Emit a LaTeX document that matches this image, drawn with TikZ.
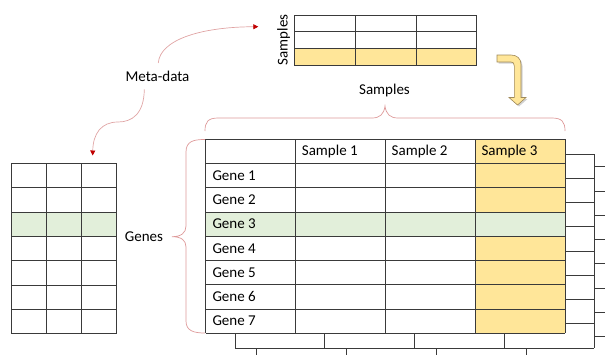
\documentclass[tikz,border=0pt]{standalone}
\usepackage{fontspec}
\setmainfont{Carlito}
\usetikzlibrary{arrows.meta}
\definecolor{gridc}{HTML}{3A3A3A}
\definecolor{yell}{HTML}{FFE699}
\definecolor{grn}{HTML}{E2EFDA}
\definecolor{bracec}{HTML}{DE9A9A}
\definecolor{arrc}{HTML}{E0A4A4}
\definecolor{tipc}{HTML}{C00000}
\definecolor{bentc}{HTML}{A08A5A}
\tikzset{
  gridline/.style={draw=gridc,line width=0.8pt},
  bracel/.style={draw=bracec,line width=0.7pt},
  metaarrow/.style={draw=arrc,line width=0.7pt,-{Triangle[length=5pt,width=5pt,color=tipc,fill=tipc]}},
  lbl/.style={font=\fontsize{15}{18}\selectfont,inner sep=1pt},
  celllbl/.style={font=\fontsize{15}{18}\selectfont,inner sep=0pt,anchor=west},
}
\begin{document}
\begin{tikzpicture}[x=1pt,y=-1pt]
\useasboundingbox (0,0) rectangle (605,354);
\clip (0,0) rectangle (605,354);
% ---- back tables (stacked) ----
\foreach \dx/\dy in {51/27.4, 29.3/14.7}{
  \begin{scope}[shift={(\dx,\dy)}]
    \fill[white] (205.7,139.3) rectangle (565,333.3);
    \foreach \xx in {205.7,295.5,385.3,475.2,565}
      \draw[gridline] (\xx,139.3) -- (\xx,333.3);
    \foreach \i in {0,...,8}
      \draw[gridline] (205.7,139.3+24.25*\i) -- (565,139.3+24.25*\i);
  \end{scope}
}
% ---- main table ----
\fill[white] (205.7,139.3) rectangle (565,333.3);
\fill[yell] (475.2,139.3) rectangle (565,333.3);
\fill[grn] (205.7,212.05) rectangle (565,236.3);
\foreach \xx in {205.7,295.5,385.3,475.2,565}
  \draw[gridline] (\xx,139.3) -- (\xx,333.3);
\foreach \i in {0,...,8}
  \draw[gridline] (205.7,139.3+24.25*\i) -- (565,139.3+24.25*\i);
\node[celllbl] (s1) at (301.7,151.4) {Sample 1};
\node[celllbl] (s2) at (391.5,151.4) {Sample 2};
\node[celllbl] (s3) at (481.4,151.4) {Sample 3};
\foreach \i in {1,...,7}
  \node[celllbl] (g\i) at (212.3,151.4+24.25*\i) {Gene \i};
% ---- left meta table ----
\fill[white] (11.7,163.3) rectangle (116.3,333.7);
\fill[grn] (11.7,212.6) rectangle (116.3,236.9);
\foreach \xx in {11.7,46.6,81.4,116.3}
  \draw[gridline] (\xx,163.3) -- (\xx,333.7);
\foreach \i in {0,...,7}
  \draw[gridline] (11.7,163.3+24.34*\i) -- (116.3,163.3+24.34*\i);
% ---- top meta table ----
\fill[yell] (294.3,48.3) rectangle (476.7,65);
\foreach \xx in {294.3,355.1,415.9,476.7}
  \draw[gridline] (\xx,15) -- (\xx,65);
\foreach \yy in {15,31.7,48.3,65}
  \draw[gridline] (294.3,\yy) -- (476.7,\yy);
\node[lbl,rotate=90] (samplesv) at (283.5,40) {Samples};
% ---- labels ----
\node[lbl] (meta) at (157.5,76) {Meta-data};
\node[lbl] (samplesh) at (384.5,90) {Samples};
\node[lbl] (genes) at (144,236.7) {Genes};
% ---- braces ----
\draw[bracel] (205,131) .. controls (205,122) and (208,118) .. (218,118) -- (372,118)
  .. controls (380,118) and (384,114) .. (385,106)
  .. controls (386,114) and (390,118) .. (398,118) -- (552,118)
  .. controls (562,118) and (565,122) .. (565,131);
\draw[bracel] (205,139.5) .. controls (194,139.5) and (186,141) .. (186,152) -- (186,226)
  .. controls (186,233) and (181,236.7) .. (172,236.7)
  .. controls (181,236.7) and (186,240) .. (186,247) -- (186,321)
  .. controls (186,331) and (194,333) .. (205,333);
% ---- meta arrows ----
\coordinate (m1) at (158.3,63);
\coordinate (t1) at (258.3,26.7);
\coordinate (m2) at (144.3,89.3);
\coordinate (mid2) at (118,122);
\coordinate (t2) at (92.7,155.5);
\draw[metaarrow] (m1) .. controls (160,40) and (200,27) .. (t1);
\draw[metaarrow] (m2) .. controls (144,114) and (132,122) .. (mid2)
  .. controls (101,122) and (93,134) .. (t2);
% ---- bent yellow arrow ----
\fill[gray!35] (498.5,56.5) -- (512,56.5) .. controls (518,56.5) and (522.5,60) .. (522.5,66) -- (522.5,99) -- (527.5,99) -- (519,106.5) -- (510.5,99) -- (515.8,99) -- (515.8,67.5) .. controls (515.8,64.5) and (514.5,63.5) .. (512.5,63.5) -- (498.5,63.5) -- cycle;
\draw[fill=yell,draw=bentc,line width=0.6pt] (497,55) -- (511,55) .. controls (517,55) and (521,58.5) .. (521,64.5) -- (521,97.5) -- (526,97.5) -- (517.5,105) -- (509,97.5) -- (514.3,97.5) -- (514.3,66) .. controls (514.3,63) and (513,62) .. (511,62) -- (497,62) -- cycle;
\end{tikzpicture}
\end{document}
